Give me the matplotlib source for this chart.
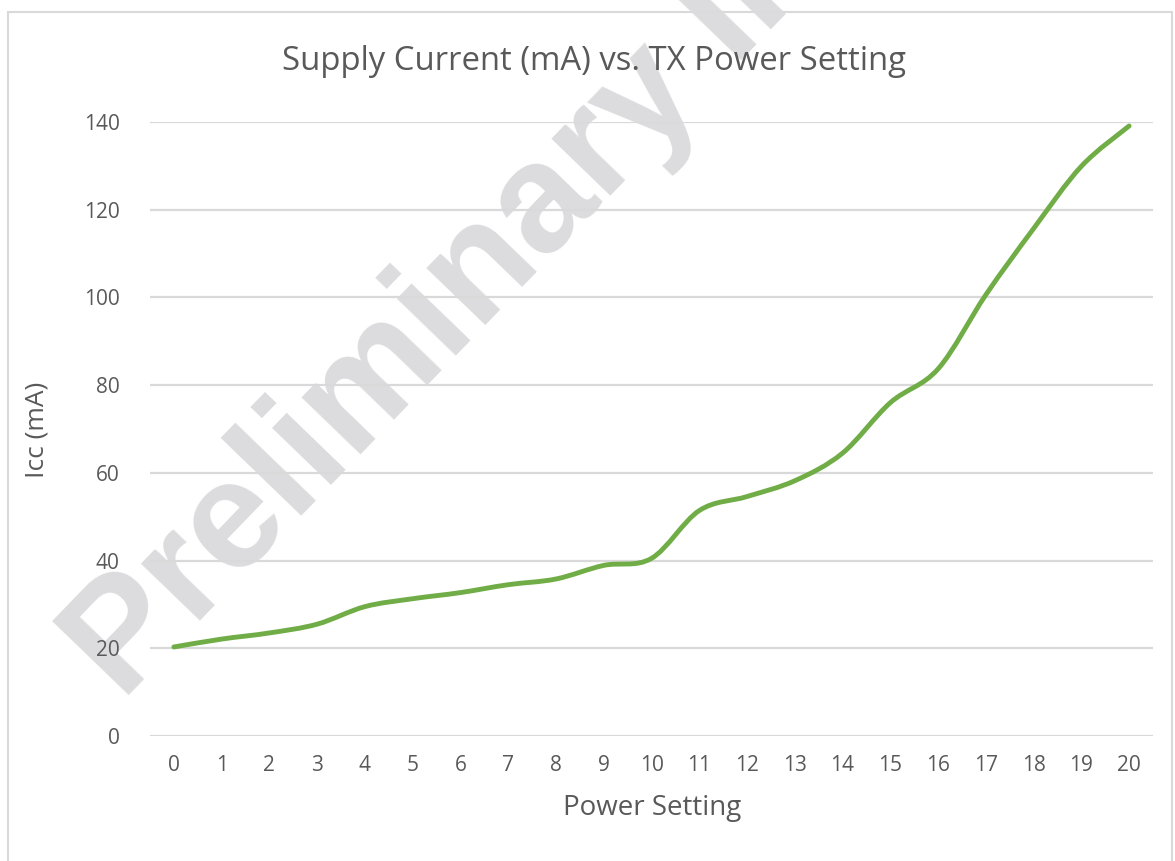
import matplotlib
matplotlib.use("Agg")
import matplotlib.pyplot as plt
from matplotlib.path import Path
from matplotlib.patches import PathPatch, Rectangle
import numpy as np

# ---- data ----
power_setting = list(range(21))
icc_ma = [20.3, 22.1, 23.5, 25.5, 29.5, 31.3, 32.7, 34.5, 35.8, 38.9, 40.5,
          51.4, 54.6, 58.2, 64.5, 76.0, 83.7, 100.6, 115.7, 129.9, 139.1]
y_ticks = [0, 20, 40, 60, 80, 100, 120, 140]
title = "Supply Current (mA) vs. TX Power Setting"
x_label = "Power Setting"
y_label = "Icc (mA)"
watermark = "Preliminary Information"

W, H = 1175, 861
fig = plt.figure(figsize=(W / 100, H / 100), dpi=100)
fig.patch.set_facecolor("white")

# outer chart-area border
fig.add_artist(Rectangle((8 / W, -0.02), (1172 - 8) / W, 1.02 - 12 / H,
                         transform=fig.transFigure, fill=False,
                         edgecolor="#d9d9d9", linewidth=1.5, zorder=-2))

# watermark (behind everything)
fig.text(122 / W, 1 - 702 / H, watermark, transform=fig.transFigure,
         rotation=46, rotation_mode="anchor", ha="left", va="baseline",
         fontsize=111, fontweight="bold", family="Liberation Sans",
         color="#dcdcde", zorder=-1)

ax = fig.add_axes([150 / W, 1 - 736 / H, (1153 - 150) / W, (736 - 122) / H])
ax.patch.set_alpha(0)
ax.set_xlim(-0.5, 20.5)
ax.set_ylim(0, 140)
ax.set_yticks(y_ticks)
ax.set_xticks(power_setting)
ax.set_xticklabels([str(v) for v in power_setting])
for s in ax.spines.values():
    s.set_visible(False)
ax.grid(axis="y", color="#d9d9d9", linewidth=1.6, zorder=1)
ax.grid(axis="x", visible=False)
ax.tick_params(length=0, colors="#595959", labelsize=15)
ax.tick_params(axis="y", pad=22)
ax.tick_params(axis="x", pad=14)
for lab in ax.get_xticklabels() + ax.get_yticklabels():
    lab.set_family("Open Sans")

# smoothed line (Excel-style Bezier smoothing through data points)
xs = np.array(power_setting, dtype=float)
ys = np.array(icc_ma, dtype=float)
verts = [(xs[0], ys[0])]
codes = [Path.MOVETO]
n = len(xs)
for i in range(n - 1):
    p0 = np.array([xs[max(i - 1, 0)], ys[max(i - 1, 0)]])
    p1 = np.array([xs[i], ys[i]])
    p2 = np.array([xs[i + 1], ys[i + 1]])
    p3 = np.array([xs[min(i + 2, n - 1)], ys[min(i + 2, n - 1)]])
    c1 = p1 + (p2 - p0) / 6.0
    c2 = p2 - (p3 - p1) / 6.0
    verts += [tuple(c1), tuple(c2), tuple(p2)]
    codes += [Path.CURVE4] * 3
ax.add_patch(PathPatch(Path(verts, codes), facecolor="none",
                       edgecolor="#70ad47", linewidth=3.5,
                       capstyle="round", joinstyle="round", zorder=3))

fig.text(594 / W, 1 - 61 / H, title, ha="center", va="center",
         fontsize=23.7, color="#595959", family="Open Sans")
fig.text(652 / W, 1 - 808 / H, x_label, ha="center", va="center",
         fontsize=20, color="#595959", family="Open Sans")
fig.text(37 / W, 1 - 430 / H, y_label, ha="center", va="center",
         rotation=90, fontsize=19, color="#595959", family="Open Sans")

fig.savefig("out.png", dpi=100)
